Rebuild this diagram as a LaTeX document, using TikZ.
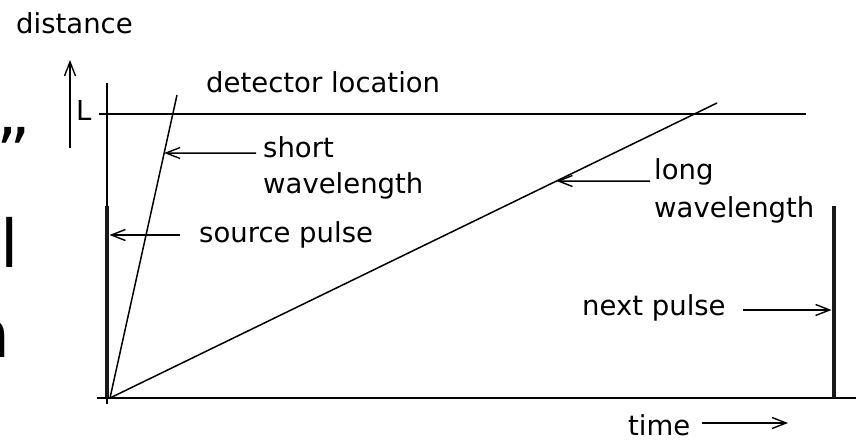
\documentclass[tikz,border=0pt]{standalone}
\usepackage{fontspec}
\setmainfont{DejaVu Sans}
\usetikzlibrary{arrows.meta}
\begin{document}
\begin{tikzpicture}[x=1pt,y=-1pt,
  lbl/.style={inner sep=0pt,anchor=base west,font=\fontsize{27.5}{33}\selectfont},
  frag/.style={inner sep=0pt,font=\fontsize{66}{70}\selectfont},
  thin/.style={line width=1.5pt,line cap=butt},
  pulse/.style={line width=4.5pt,color=black!90},
  arr/.style={thin,-{Straight Barb[length=14pt,width=11pt,line width=1.4pt]}}]
\useasboundingbox (0,0) rectangle (856,440);
% clipped fragments of large slide text at the left edge
\begin{scope}
\clip (0,0) rectangle (856,440);
\node[frag,anchor=base east] (fq) at (31,175) {”};
\node[frag,anchor=base west] (fl) at (0,267) {l};
\node[frag,anchor=base east] (fn) at (11,357) {n};
\end{scope}
% key points
\coordinate (O) at (110,398);
\coordinate (Stop) at (177,95);
\coordinate (Ltop) at (717,103);
% axes and detector line
\coordinate (va) at (107,83);
\coordinate (vb) at (107,404);
\draw[thin] (va) -- (vb);
\coordinate (ha) at (97,398);
\coordinate (hb) at (856,398);
\draw[thin] (ha) -- (hb);
\coordinate (da) at (99,114);
\coordinate (db) at (806,114);
\draw[thin] (da) -- (db);
% distance arrow
\coordinate (La) at (70,148);
\coordinate (Lb) at (70,60);
\draw[arr] (La) -- (Lb);
% pulses
\coordinate (spT) at (107,206);
\coordinate (spB) at (107,397);
\draw[pulse] (spT) -- (spB);
\coordinate (npT) at (834,206);
\coordinate (npB) at (834,398);
\draw[pulse] (npT) -- (npB);
% wavelength lines
\draw[thin] (O) -- (Stop) coordinate[pos=0.8086] (sA);
\draw[thin] (O) -- (Ltop) coordinate[pos=0.7356] (lA);
% labels
\node[lbl] (tdist) at (16,33) {distance};
\node[lbl] (tdet) at (206,92) {detector location};
\node[lbl] (tL) at (76,120) {L};
\node[lbl] (tsh1) at (263,157) {short};
\node[lbl] (tsh2) at (263,193) {wavelength};
\node[lbl] (tsrc) at (199,242) {source pulse};
\node[lbl] (tlo1) at (654,179) {long};
\node[lbl] (tlo2) at (654,217) {wavelength};
\node[lbl] (tnext) at (582,315) {next pulse};
\node[lbl] (ttime) at (628,435) {time};
% label arrows
\coordinate (sAs) at (256,153);
\draw[arr] (sAs) -- (sA);
\coordinate (lAs) at (650,181);
\draw[arr] (lAs) -- (lA);
\coordinate (srcS) at (180,235);
\coordinate (srcE) at (109.5,235);
\draw[arr] (srcS) -- (srcE);
\coordinate (nxS) at (743,310);
\coordinate (nxE) at (831.5,310);
\draw[arr] (nxS) -- (nxE);
\coordinate (tmS) at (702,423);
\coordinate (tmE) at (788,423);
\draw[arr] (tmS) -- (tmE);
\end{tikzpicture}
\end{document}
